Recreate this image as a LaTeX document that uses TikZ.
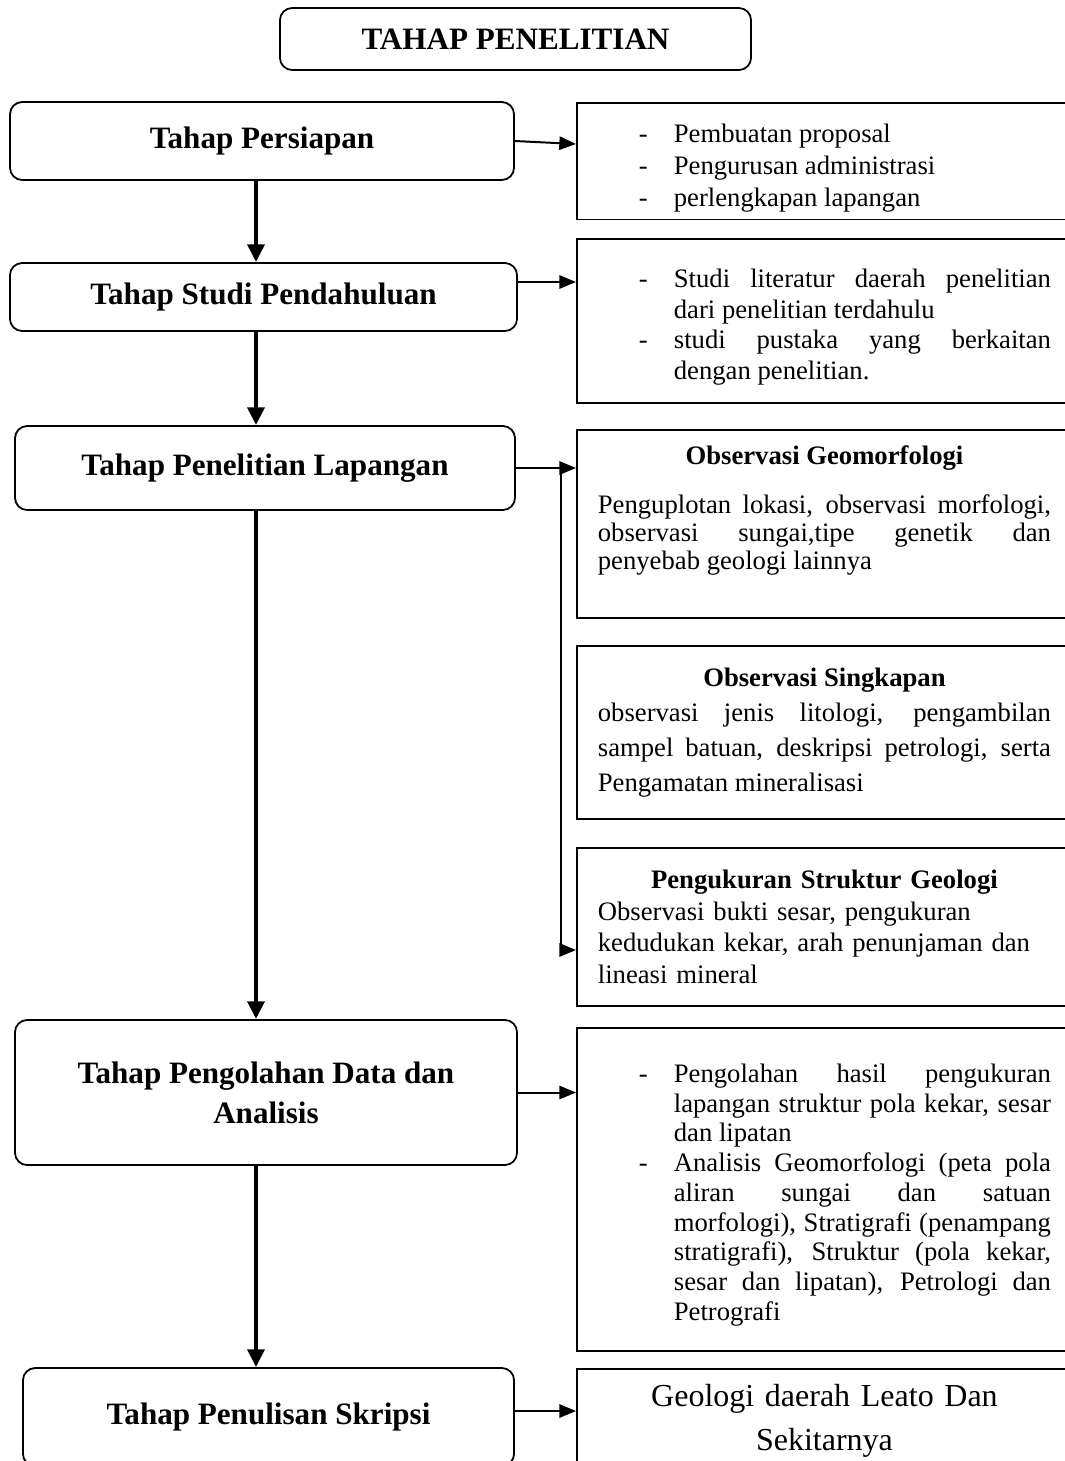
\documentclass[tikz,border=0pt]{standalone}
\usepackage{fontspec}
\setmainfont{Liberation Serif}
\usetikzlibrary{arrows.meta}

\newcommand{\dashitem}{\par\noindent\hangindent=34.2pt\hangafter=1\makebox[34.2pt][l]{\hspace{18.45pt}-}}

\begin{document}
\begin{tikzpicture}[x=0.45pt,y=-0.45pt,
    stage/.style={draw,line width=0.8pt,rounded corners=5.5pt,align=center,font=\fontsize{14}{17}\selectfont\bfseries},
    note/.style={draw,line width=0.8pt,anchor=north west,inner xsep=9.45pt,text width=203.9pt,minimum width=222.8pt,align=justify},
    flow/.style={line width=2.2pt,-{Triangle[length=8pt,width=7.5pt]}},
    link/.style={line width=0.9pt,-{Triangle[length=7.5pt,width=6pt]}}]
    \useasboundingbox (0,0) rectangle (1064,1461);
    %% tahap
    \node[stage,minimum width=212pt,minimum height=27.9pt] (judul) at (515.5,39) {TAHAP PENELITIAN};
    \node[stage,minimum width=226.8pt,minimum height=35.1pt] (persiapan) at (262,141) {Tahap Persiapan};
    \node[stage,minimum width=228.2pt,minimum height=30.6pt] (studi) at (263.5,297) {Tahap Studi Pendahuluan};
    \node[stage,minimum width=225pt,minimum height=37.8pt] (lapangan) at (265,468) {Tahap Penelitian Lapangan};
    \node[stage,minimum width=225.9pt,minimum height=65.3pt,font=\fontsize{14}{18}\selectfont\bfseries] (olah) at (266,1092.5) {Tahap Pengolahan Data dan\\Analisis};
    \node[stage,minimum width=221pt,minimum height=44.1pt] (tulis) at (268.5,1417) {Tahap Penulisan Skripsi};
    %% keterangan
    \node[note,minimum height=52.2pt,font=\fontsize{12}{14.4}\selectfont] (r1) at (576,102) {%
        \dashitem Pembuatan proposal
        \dashitem Pengurusan administrasi
        \dashitem perlengkapan lapangan\par};
    \node[note,minimum height=73.8pt,font=\fontsize{12}{13.8}\selectfont] (r2) at (576,238) {%
        \dashitem Studi literatur daerah penelitian\linebreak dari penelitian terdahulu
        \dashitem studi pustaka yang berkaitan\linebreak dengan penelitian.\par};
    \node[note,minimum height=84.6pt,font=\fontsize{12}{12.6}\selectfont] (r3) at (576,429) {%
        {\centering\bfseries Observasi Geomorfologi\par}\vspace{9.4pt}
        \noindent Penguplotan lokasi, observasi morfologi,\linebreak observasi sungai,tipe genetik dan\linebreak penyebab geologi lainnya
        \par\vspace{1.7pt}\noindent\mbox{}};
    \node[note,minimum height=77.85pt,font=\fontsize{12}{15.75}\selectfont] (r4) at (576,645) {%
        {\centering\bfseries Observasi Singkapan\par}
        \noindent observasi jenis litologi, pengambilan\linebreak sampel batuan, deskripsi petrologi, serta\linebreak Pengamatan mineralisasi\par};
    \node[note,minimum height=71.1pt,align=left,font=\fontsize{12}{14.2}\selectfont] (r5) at (576,847) {%
        \hfill\textbf{Pengukuran Struktur Geologi}\hfill\null\\
        Observasi bukti sesar, pengukuran\\
        kedudukan kekar, arah penunjaman dan\\
        lineasi mineral};
    \node[note,minimum height=145.35pt,font=\fontsize{12}{13.4}\selectfont] (r6) at (576,1027) {%
        \dashitem Pengolahan hasil pengukuran\linebreak lapangan struktur pola kekar, sesar\linebreak dan lipatan
        \dashitem Analisis Geomorfologi (peta pola\linebreak aliran sungai dan satuan\linebreak morfologi), Stratigrafi (penampang\linebreak stratigrafi), Struktur (pola kekar,\linebreak sesar dan lipatan), Petrologi dan\linebreak Petrografi\par};
    \node[note,minimum height=46.8pt,align=center,font=\fontsize{14.4}{19.8}\selectfont] (r7) at (576,1368) {Geologi daerah Leato Dan\\Sekitarnya};
    %% alur utama
    \coordinate (spine) at (256,0);
    \draw[flow] (persiapan.south -| spine) -- (studi.north -| spine);
    \draw[flow] (studi.south -| spine) -- (lapangan.north -| spine);
    \draw[flow] (lapangan.south -| spine) -- (olah.north -| spine);
    \draw[flow] (olah.south -| spine) -- (tulis.north -| spine);
    %% ke keterangan
    \draw[link] (persiapan.east) -- ([yshift=-1.35pt]persiapan.east -| r1.west);
    \draw[link] ([yshift=6.75pt]studi.east) -- ([yshift=6.75pt]studi.east -| r2.west);
    \draw[link] (lapangan.east) -- (lapangan.east -| r3.west);
    \coordinate (cabang) at (561,468);
    \coordinate (belok) at (561,950);
    \draw[link] (cabang) -- (belok) -- (belok -| r5.west);
    \draw[link] (olah.east) -- (olah.east -| r6.west);
    \draw[link] ([yshift=2.7pt]tulis.east) -- ([yshift=2.7pt]tulis.east -| r7.west);
\end{tikzpicture}
\end{document}
